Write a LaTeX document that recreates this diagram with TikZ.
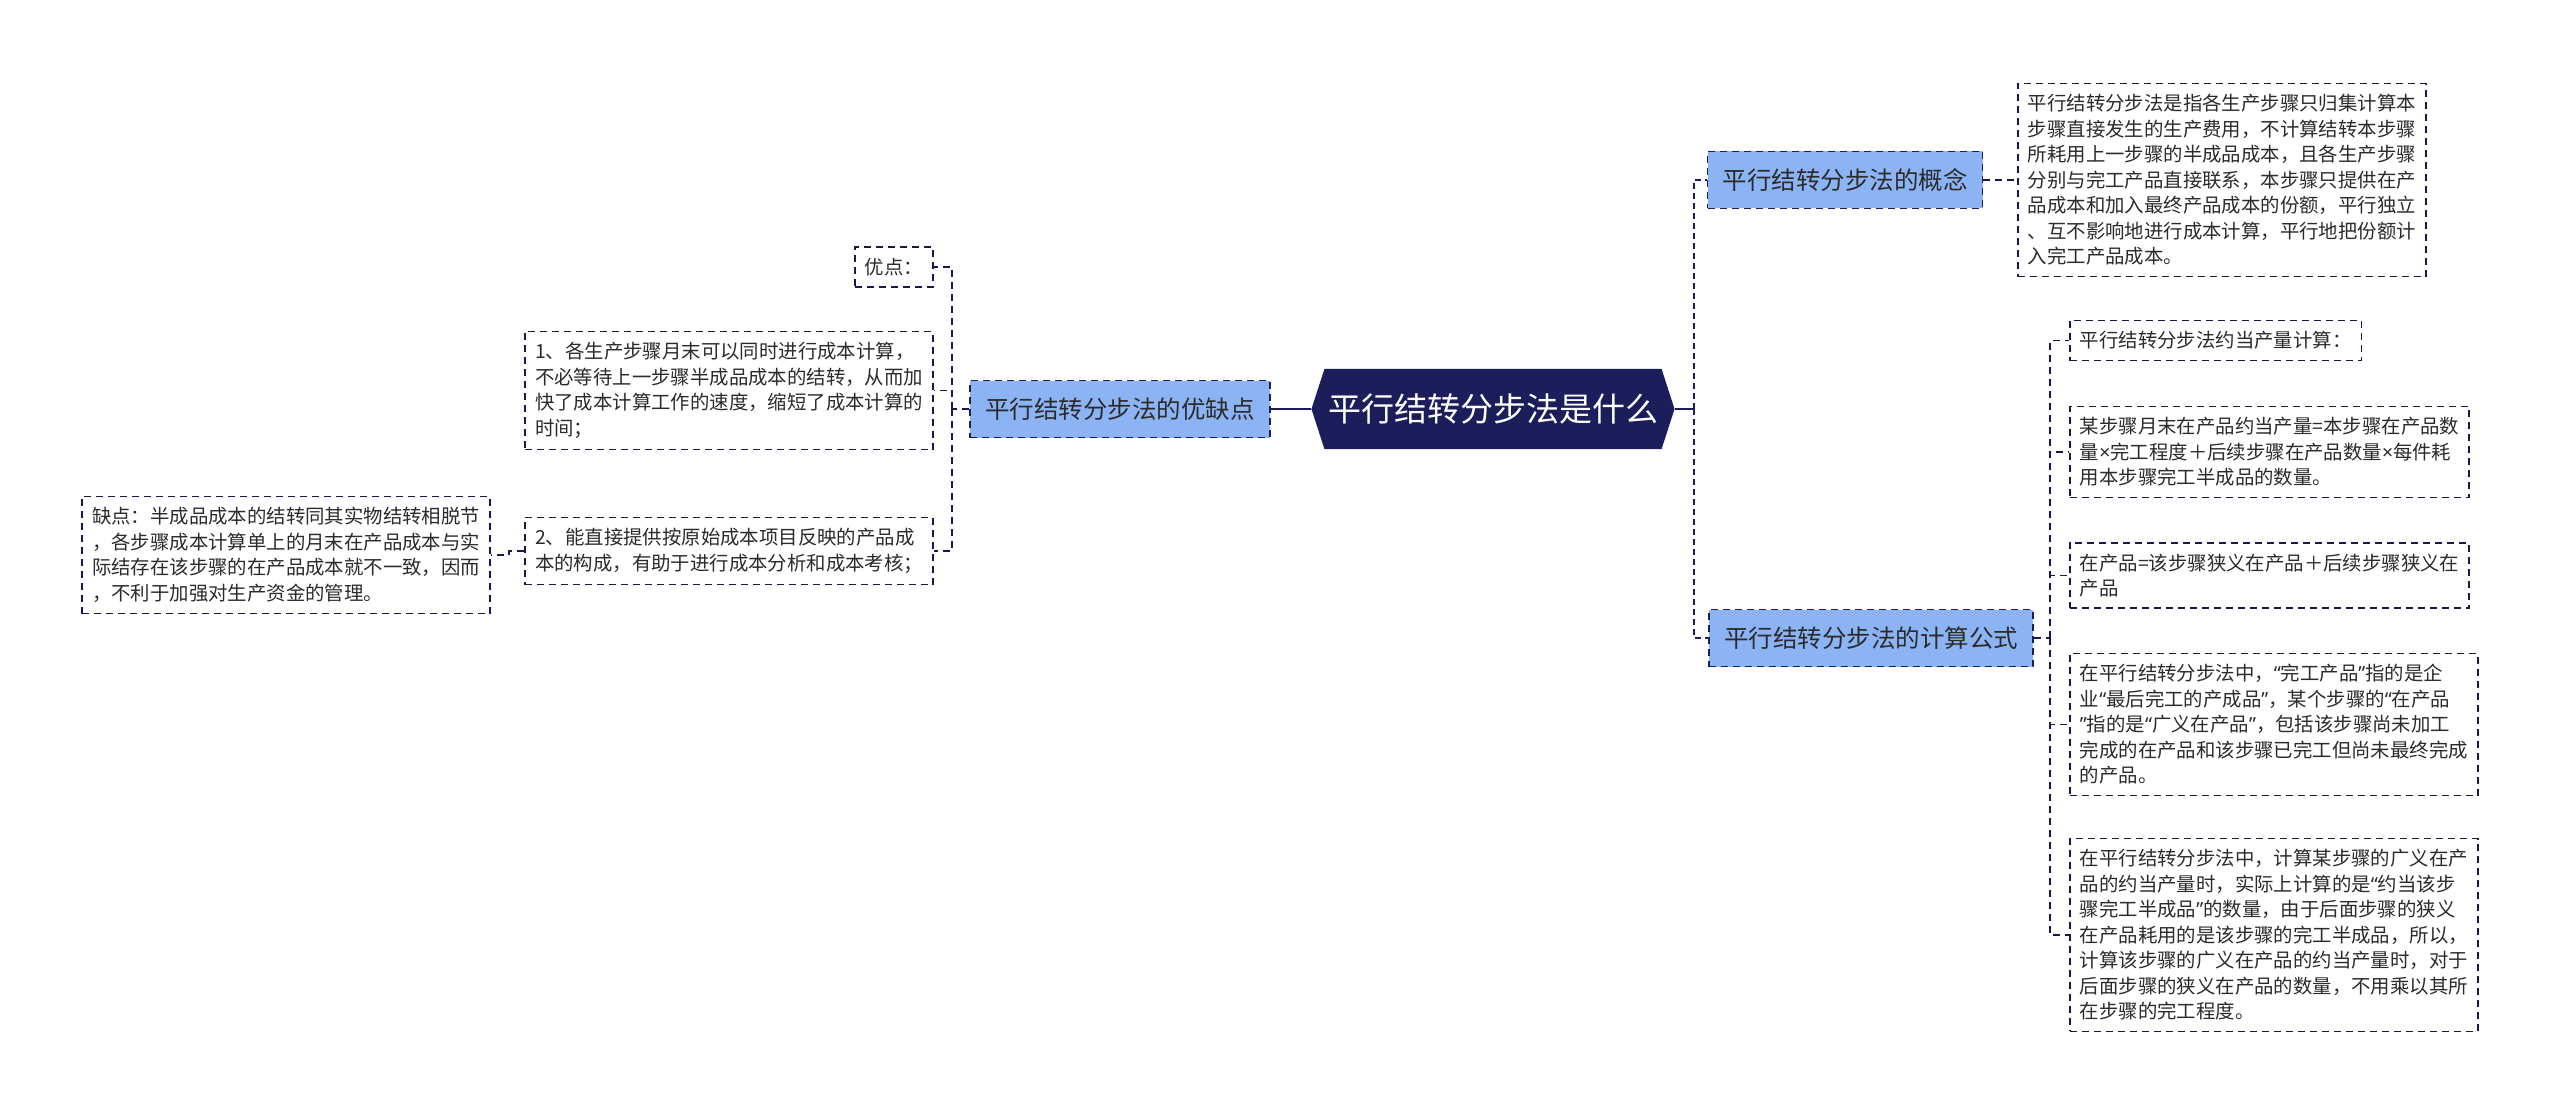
\documentclass[tikz,border=0pt]{standalone}
\usepackage{fontspec}
\setmainfont{Noto Sans CJK SC}
\newfontfamily\westfont{Noto Sans}
\usepackage{tikz}
\usetikzlibrary{backgrounds}

\definecolor{navy}{HTML}{1B1E5A}
\definecolor{topicblue}{HTML}{8CB4F5}
\definecolor{inktext}{HTML}{2B2B2B}
\newcommand{\qopen}{{\westfont “}}
\newcommand{\qclose}{{\westfont ”}}
\newcommand{\mul}{{\westfont ×}}

\begin{document}
\begin{tikzpicture}[x=1pt,y=-1pt,
  rootnode/.style={text=white, font=\fontsize{33}{40}\selectfont, minimum width=330pt, minimum height=80pt},
  topic/.style={draw=navy, fill=topicblue, line width=1.6pt, dash pattern=on 7pt off 5pt,
    text=inktext, font=\fontsize{24.5}{30}\selectfont, inner xsep=15pt, minimum height=57pt},
  leaf/.style={draw=navy!85!black, fill=white, line width=1.8pt, dash pattern=on 7pt off 5pt,
    text=inktext, font=\fontsize{19.4}{25.5}\selectfont, inner xsep=10pt, inner ysep=11pt, align=left},
  link/.style={draw=navy!85!black, line width=1.8pt, dash pattern=on 7pt off 5pt},
  spine/.style={draw=navy, line width=2.6pt, dash pattern=on 6pt off 4pt},
  trunk/.style={draw=navy, line width=2.6pt}]
  \useasboundingbox (0,0) rectangle (2560,1115);

  % centre and main topics
  \node[rootnode] (root) at (1493,409) {平行结转分步法是什么};
  \coordinate (rootl) at ([xshift=-13pt]root.west);
  \coordinate (rootr) at ([xshift=13pt]root.east);
  \begin{pgfonlayer}{background}
    \fill[navy] (root.north west) -- (root.north east) -- (rootr) -- (root.south east)
      -- (root.south west) -- (rootl) -- cycle;
  \end{pgfonlayer}
  \node[topic] (concept) at (1845,180) {平行结转分步法的概念};
  \node[topic] (formula) at (1871,638) {平行结转分步法的计算公式};
  \node[topic] (merits) at (1120,409) {平行结转分步法的优缺点};

  % right side leaves
  \node[leaf, anchor=west] (conceptleaf) at (2017,180) {平行结转分步法是指各生产步骤只归集计算本\\步骤直接发生的生产费用，不计算结转本步骤\\所耗用上一步骤的半成品成本，且各生产步骤\\分别与完工产品直接联系，本步骤只提供在产\\品成本和加入最终产品成本的份额，平行独立\\、互不影响地进行成本计算，平行地把份额计\\入完工产品成本。};
  \node[leaf, anchor=west] (fa) at (2069,340.5) {平行结转分步法约当产量计算：};
  \node[leaf, anchor=west] (fb) at (2069,452) {某步骤月末在产品约当产量=本步骤在产品数\\量\mul 完工程度＋后续步骤在产品数量\mul 每件耗\\用本步骤完工半成品的数量。};
  \node[leaf, anchor=west] (fc) at (2069,575.5) {在产品=该步骤狭义在产品＋后续步骤狭义在\\产品};
  \node[leaf, anchor=west] (fd) at (2069,724.5) {在平行结转分步法中，\qopen 完工产品\qclose 指的是企\\业\qopen 最后完工的产成品\qclose ，某个步骤的\qopen 在产品\\\qclose 指的是\qopen 广义在产品\qclose ，包括该步骤尚未加工\\完成的在产品和该步骤已完工但尚未最终完成\\的产品。};
  \node[leaf, anchor=west] (fe) at (2069,935) {在平行结转分步法中，计算某步骤的广义在产\\品的约当产量时，实际上计算的是\qopen 约当该步\\骤完工半成品\qclose 的数量，由于后面步骤的狭义\\在产品耗用的是该步骤的完工半成品，所以，\\计算该步骤的广义在产品的约当产量时，对于\\后面步骤的狭义在产品的数量，不用乘以其所\\在步骤的完工程度。};

  % left side leaves
  \node[leaf, anchor=east] (pros) at (934,267) {优点：};
  \node[leaf, anchor=east] (proa) at (934,390.5) {1、各生产步骤月末可以同时进行成本计算，\\不必等待上一步骤半成品成本的结转，从而加\\快了成本计算工作的速度，缩短了成本计算的\\时间；};
  \node[leaf, anchor=east] (prob) at (934,551) {2、能直接提供按原始成本项目反映的产品成\\本的构成，有助于进行成本分析和成本考核；};
  \node[leaf, anchor=east] (cons) at (491,555) {缺点：半成品成本的结转同其实物结转相脱节\\，各步骤成本计算单上的月末在产品成本与实\\际结存在该步骤的在产品成本就不一致，因而\\，不利于加强对生产资金的管理。};

  % joints
  \coordinate (rjoint) at (1694,409);
  \coordinate (fjoint) at (2050,638);
  \coordinate (mjoint) at (952,409);
  \coordinate (cjoint) at (509,551);

  % connectors
  \draw[trunk] (rootl) -- (merits.east);
  \draw[trunk] (rootr) -- (rjoint);
  \draw[spine] (rjoint) |- (concept.west);
  \draw[spine] (rjoint) |- (formula.west);
  \draw[link] (concept.east) -- (conceptleaf.west);
  \draw[link] (formula.east) -- (fjoint);
  \foreach \leafname in {fa,fb,fc,fd,fe}
    \draw[link] (fjoint) |- (\leafname.west);
  \draw[link] (merits.west) -- (mjoint);
  \foreach \leafname in {pros,proa,prob}
    \draw[link] (mjoint) |- (\leafname.east);
  \draw[link] (prob.west) -- (cjoint) |- (cons.east);
\end{tikzpicture}
\end{document}
